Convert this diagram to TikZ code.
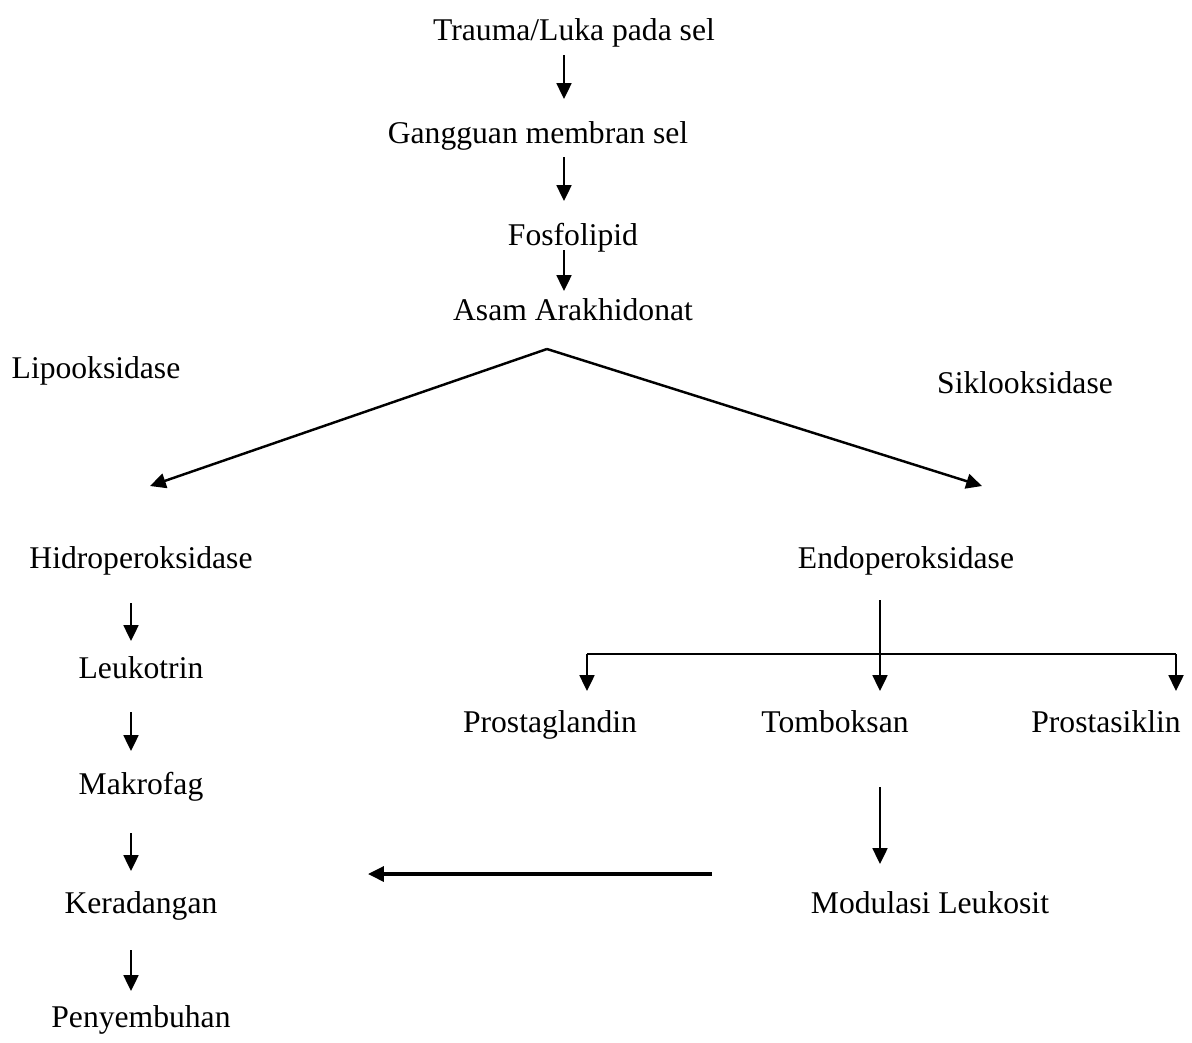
\documentclass[tikz,border=0pt]{standalone}
\usepackage{fontspec}
\setmainfont{Liberation Serif}
\usetikzlibrary{arrows.meta}
\begin{document}
\begin{tikzpicture}[x=0.02cm,y=-0.02cm,
  lbl/.style={inner sep=0pt,text height=12pt,text depth=4pt,yshift=-2.5pt,font=\fontsize{18}{20}\selectfont},
  arr/.style={line width=1.1pt,-{Triangle[length=9pt,width=8.5pt]}},
  ln/.style={line width=1.1pt}]
\useasboundingbox (0,0) rectangle (1192,1042);
% labels
\node[lbl] (trauma) at (574,29) {Trauma/Luka pada sel};
\node[lbl] (gang) at (538,132) {Gangguan membran sel};
\node[lbl] (fosfo) at (573,234) {Fosfolipid};
\node[lbl] (asam) at (573,309) {Asam Arakhidonat};
\node[lbl] (lipo) at (96,367) {Lipooksidase};
\node[lbl] (siklo) at (1025,382) {Siklooksidase};
\node[lbl] (hidro) at (141,557) {Hidroperoksidase};
\node[lbl] (endo) at (906,557) {Endoperoksidase};
\node[lbl] (leuko) at (141,667) {Leukotrin};
\node[lbl] (makro) at (141,783) {Makrofag};
\node[lbl] (kera) at (141,902) {Keradangan};
\node[lbl] (peny) at (141,1016) {Penyembuhan};
\node[lbl] (prosg) at (550,721) {Prostaglandin};
\node[lbl] (tomb) at (835,721) {Tomboksan};
\node[lbl] (prosk) at (1106,721) {Prostasiklin};
\node[lbl] (modu) at (930,902) {Modulasi Leukosit};
% coordinates
\coordinate (a1s) at (564,55);  \coordinate (a1e) at (564,99);
\coordinate (a2s) at (564,157); \coordinate (a2e) at (564,201);
\coordinate (a3s) at (564,250); \coordinate (a3e) at (564,291);
\coordinate (apex) at (547,349);
\coordinate (lend) at (150,486);
\coordinate (rend) at (982,486);
\coordinate (l1s) at (131,603); \coordinate (l1e) at (131,641);
\coordinate (l2s) at (131,712); \coordinate (l2e) at (131,751);
\coordinate (l3s) at (131,833); \coordinate (l3e) at (131,871);
\coordinate (l4s) at (131,950); \coordinate (l4e) at (131,991);
\coordinate (es) at (880,600);  \coordinate (ee) at (880,691);
\coordinate (bl) at (587,654);  \coordinate (br) at (1176,654);
\coordinate (ble) at (587,691); \coordinate (bre) at (1176,691);
\coordinate (ts) at (880,787);  \coordinate (te) at (880,864);
\coordinate (hs) at (712,874);  \coordinate (he) at (368,874);
% connectors
\draw[arr] (a1s) -- (a1e);
\draw[arr] (a2s) -- (a2e);
\draw[arr] (a3s) -- (a3e);
\draw[arr,line width=1.4pt] (apex) -- (lend);
\draw[arr,line width=1.4pt] (apex) -- (rend);
\draw[arr] (l1s) -- (l1e);
\draw[arr] (l2s) -- (l2e);
\draw[arr] (l3s) -- (l3e);
\draw[arr] (l4s) -- (l4e);
\draw[arr] (es) -- (ee);
\draw[ln,line width=1.4pt] (bl) -- (br);
\draw[arr] (bl) -- (ble);
\draw[arr] (br) -- (bre);
\draw[arr] (ts) -- (te);
\draw[arr,line width=1.8pt] (hs) -- (he);
\end{tikzpicture}
\end{document}
